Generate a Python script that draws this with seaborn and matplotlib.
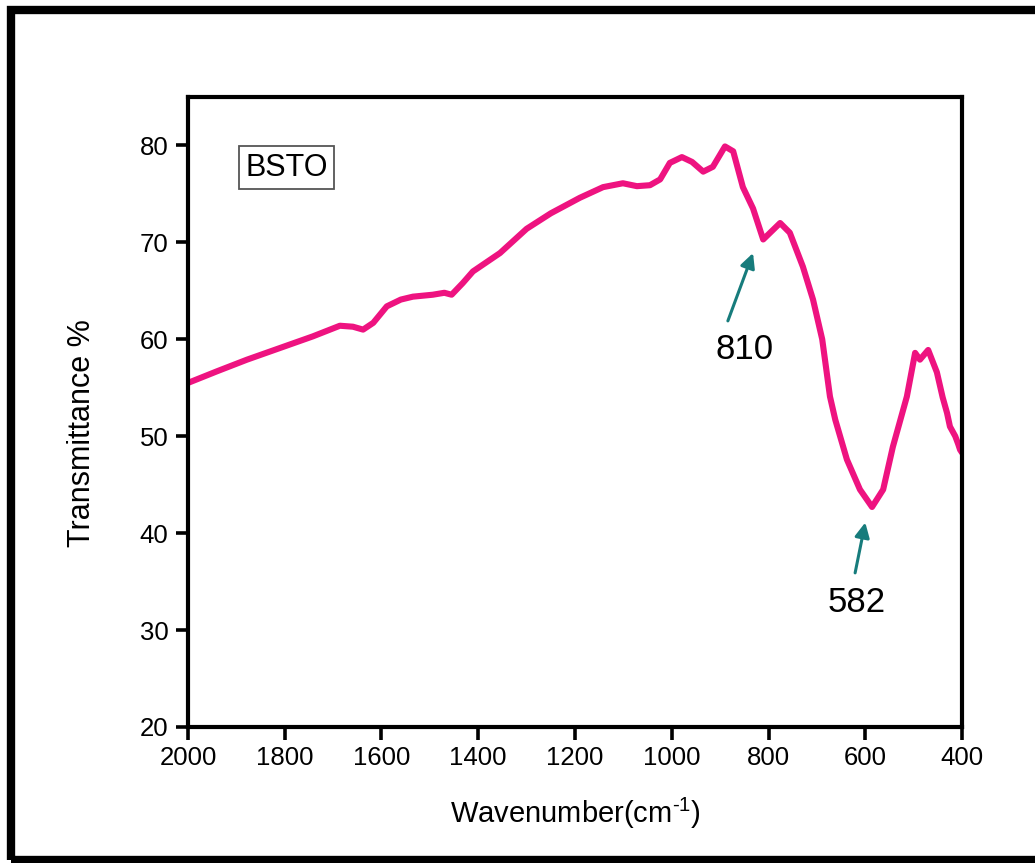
import matplotlib
matplotlib.use("Agg")
import matplotlib.pyplot as plt
from matplotlib.patches import Rectangle
import seaborn as sns
import pandas as pd

# FTIR spectrum of BSTO
wavenumber = [2000, 1940, 1878, 1810, 1742, 1686, 1659, 1638, 1617, 1589, 1560, 1535,
              1494, 1470, 1455, 1432, 1411, 1355, 1300, 1250, 1190, 1142, 1101, 1072,
              1045, 1024, 1004, 979, 958, 935, 915, 890, 873, 853, 832, 811, 776, 756,
              729, 708, 689, 673, 662, 638, 611, 586, 563, 543, 514, 497, 487, 470,
              452, 440, 431, 425, 414, 408, 404, 400]
transmittance = [55.5, 56.7, 57.9, 59.1, 60.3, 61.4, 61.3, 61.0, 61.7, 63.4, 64.1, 64.4,
                 64.6, 64.8, 64.6, 65.8, 67.0, 68.9, 71.4, 73.0, 74.6, 75.7, 76.1, 75.8,
                 75.9, 76.5, 78.2, 78.8, 78.3, 77.3, 77.8, 79.9, 79.4, 75.7, 73.5, 70.3,
                 72.0, 71.0, 67.5, 64.1, 60.0, 54.1, 51.7, 47.6, 44.5, 42.7, 44.5, 48.9,
                 54.1, 58.6, 57.9, 58.9, 56.6, 54.0, 52.4, 51.0, 50.0, 49.2, 48.6, 48.3]

x_ticks = [2000, 1800, 1600, 1400, 1200, 1000, 800, 600, 400]
y_ticks = [20, 30, 40, 50, 60, 70, 80]

# Labelled bands: (label, arrow head x, arrow head y, arrow tail x, arrow tail y, text x, text y)
bands = [
    ("810", 832, 68.9, 884, 61.9, 849, 58.9),
    ("582", 600, 41.1, 621, 35.9, 617, 32.8),
]

sns.set_theme(style="white")
plt.rcParams["font.family"] = ["Liberation Sans", "DejaVu Sans"]
plt.rcParams["mathtext.fontset"] = "custom"
plt.rcParams["mathtext.rm"] = "Liberation Sans"
plt.rcParams["mathtext.it"] = "Liberation Sans"
plt.rcParams["text.color"] = "black"
plt.rcParams["axes.labelcolor"] = "black"

df = pd.DataFrame({"Wavenumber": wavenumber, "Transmittance": transmittance})

fig = plt.figure(figsize=(10.35, 8.63), dpi=100)
ax = fig.add_axes([0.1816, 0.1576, 0.7479, 0.7300])

sns.lineplot(data=df, x="Wavenumber", y="Transmittance", ax=ax,
             color="#EE1380", linewidth=4.4, estimator=None)

ax.set_xlim(2000, 400)
ax.set_ylim(20, 85)
ax.set_xticks(x_ticks)
ax.set_yticks(y_ticks)
ax.tick_params(axis="both", which="major", direction="out", length=9, width=2.6,
               labelsize=18.5, colors="black", pad=5, bottom=True, left=True)
for s in ax.spines.values():
    s.set_linewidth(3.0)
    s.set_color("black")

ax.set_xlabel("Wavenumber(cm$^{\\text{-1}}$)", fontsize=21, labelpad=18)
ax.set_ylabel("Transmittance %", fontsize=22)
ax.yaxis.set_label_coords(-0.117, 0.467)

ax.text(0.127, 0.888, "BSTO", transform=ax.transAxes, fontsize=22,
        ha="center", va="center",
        bbox=dict(boxstyle="square,pad=0.2", facecolor="white",
                  edgecolor="#555555", linewidth=1.3))

teal = "#177C7C"
for label, hx, hy, tx, ty, lx, ly in bands:
    ax.annotate("", xy=(hx, hy), xytext=(tx, ty),
                arrowprops=dict(arrowstyle="-|>", color=teal, lw=2.2,
                                mutation_scale=22, shrinkA=0, shrinkB=0))
    ax.text(lx, ly, label, fontsize=25, ha="center", va="center", color="black")

# Black frame around the whole figure
fig.patches.append(Rectangle((0.0106, 0.0035), 1.2, 0.9849, transform=fig.transFigure,
                             fill=False, edgecolor="black", linewidth=6, zorder=10))

fig.savefig("out.png", dpi=100, facecolor="white")
